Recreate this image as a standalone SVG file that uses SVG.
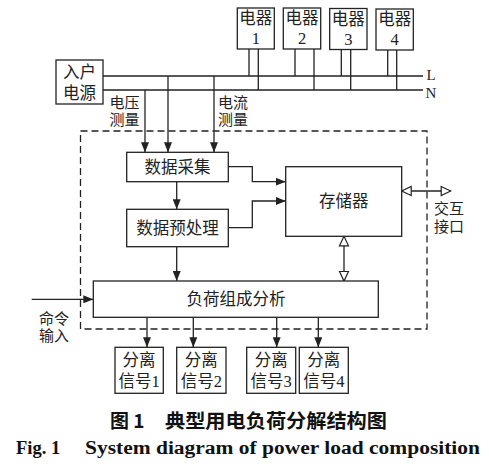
<svg xmlns="http://www.w3.org/2000/svg" width="489" height="471" viewBox="0 0 489 471">
<style>
.b{fill:#fff;stroke:#222;stroke-width:1.3}
.l{fill:none;stroke:#222;stroke-width:1.3}
.d{fill:none;stroke:#222;stroke-width:1.3;stroke-dasharray:7,4}
.t{font-family:"Liberation Serif","Noto Sans CJK SC",serif;font-size:16.5px;fill:#222;text-anchor:middle}
.s{font-size:15px}
.cap{font-family:"Noto Sans CJK SC",sans-serif;font-size:19px;font-weight:bold;fill:#111}
.en{font-family:"Liberation Serif",serif;font-size:18.5px;font-weight:bold;fill:#111}
</style>
<defs>
<marker id="a" markerUnits="userSpaceOnUse" markerWidth="10" markerHeight="8" refX="10" refY="4" orient="auto"><path d="M0,0 L10,4 L0,8 z" fill="#222"/></marker>
<marker id="o" markerUnits="userSpaceOnUse" markerWidth="12" markerHeight="12" refX="10.5" refY="6" orient="auto-start-reverse"><path d="M1,1.5 L10.5,6 L1,10.5 z" fill="#fff" stroke="#222" stroke-width="1.2"/></marker>
</defs>
<g id="frame"><rect class="d" x="80.5" y="131" width="346.5" height="198"/></g>
<g id="connectors">
<path class="l" d="M103,76 H423 M103,90 H423"/>
<path class="l" d="M249,49 V76 M258.3,49 V90 M295,49 V76 M314,49 V90 M341.3,49 V76 M350.7,49 V90 M387.7,50 V76 M396.7,50 V90"/>
<path class="l" d="M145,90 V152.3" marker-end="url(#a)"/>
<path class="l" d="M168,76 V152.3" marker-end="url(#a)"/>
<path class="l" d="M214,76 V152.3" marker-end="url(#a)"/>
<path class="l" d="M176.7,181.7 V209.3" marker-end="url(#a)"/>
<path class="l" d="M176.7,246.7 V281" marker-end="url(#a)"/>
<path class="l" d="M228.3,166.7 H252.3 V181.7 H285.7" marker-end="url(#a)"/>
<path class="l" d="M228.3,227.7 H252.3 V201 H285.7" marker-end="url(#a)"/>
<path class="l" d="M344,236.3 V281" marker-start="url(#o)" marker-end="url(#o)"/>
<path class="l" d="M401.7,191 H450.7" marker-start="url(#o)" marker-end="url(#o)"/>
<path class="l" d="M31.7,299.3 H93.3" marker-end="url(#a)"/>
<path class="l" d="M147,317.3 V347.3" marker-end="url(#a)"/>
<path class="l" d="M193.3,317.3 V347.3" marker-end="url(#a)"/>
<path class="l" d="M276.7,317.3 V347.3" marker-end="url(#a)"/>
<path class="l" d="M318.3,317.3 V347.3" marker-end="url(#a)"/>
</g>
<g id="source"><rect class="b" x="56" y="60" width="47" height="44"/><text class="t" x="79.5" y="78">入户</text><text class="t" x="79.5" y="99">电源</text></g>
<g id="app1"><rect class="b" x="237.3" y="8" width="37" height="41"/><text class="t" x="255.8" y="24">电器</text><text class="t" x="255.8" y="44">1</text></g>
<g id="app2"><rect class="b" x="283.3" y="8" width="37.4" height="41"/><text class="t" x="302" y="24">电器</text><text class="t" x="302" y="44">2</text></g>
<g id="app3"><rect class="b" x="329.7" y="8.5" width="37.3" height="41"/><text class="t" x="348.3" y="24.5">电器</text><text class="t" x="348.3" y="44.5">3</text></g>
<g id="app4"><rect class="b" x="376" y="9" width="37.3" height="41"/><text class="t" x="394.7" y="25">电器</text><text class="t" x="394.7" y="45">4</text></g>
<g id="lines-labels"><text class="t s" x="431" y="80">L</text><text class="t s" x="431" y="97.5">N</text></g>
<g id="vmeas"><text class="t s" x="124.5" y="107.5">电压</text><text class="t s" x="124.5" y="125">测量</text></g>
<g id="imeas"><text class="t s" x="233" y="107.5">电流</text><text class="t s" x="233" y="125">测量</text></g>
<g id="acq"><rect class="b" x="126.7" y="152.3" width="101.6" height="29.4"/><text class="t" x="177.5" y="173">数据采集</text></g>
<g id="pre"><rect class="b" x="126.7" y="209.3" width="101.6" height="37.4"/><text class="t" x="177.5" y="234">数据预处理</text></g>
<g id="mem"><rect class="b" x="285.7" y="166.7" width="116" height="69.6"/><text class="t" x="343.7" y="207">存储器</text></g>
<g id="iface"><text class="t s" x="449" y="214">交互</text><text class="t s" x="449" y="231.5">接口</text></g>
<g id="ana"><rect class="b" x="93.3" y="281" width="285" height="36.3"/><text class="t" x="236" y="305">负荷组成分析</text></g>
<g id="cmd"><text class="t s" x="54" y="323.5">命令</text><text class="t s" x="54" y="341">输入</text></g>
<g id="out1"><rect class="b" x="115" y="347.3" width="48.3" height="46"/><text class="t" x="139" y="366">分离</text><text class="t" x="139" y="387">信号1</text></g>
<g id="out2"><rect class="b" x="176.7" y="347.3" width="49.3" height="46"/><text class="t" x="201.3" y="366">分离</text><text class="t" x="201.3" y="387">信号2</text></g>
<g id="out3"><rect class="b" x="246.7" y="347.3" width="49" height="46"/><text class="t" x="271.2" y="366">分离</text><text class="t" x="271.2" y="387">信号3</text></g>
<g id="out4"><rect class="b" x="299.3" y="347.3" width="49" height="46"/><text class="t" x="323.8" y="366">分离</text><text class="t" x="323.8" y="387">信号4</text></g>
<g id="caption">
<text class="cap" x="110" y="428">图 1</text>
<text class="cap" x="165" y="428" textLength="222" lengthAdjust="spacingAndGlyphs">典型用电负荷分解结构图</text>
<text class="en" x="16" y="454">Fig. 1</text>
<text class="en" x="85" y="454" textLength="395" lengthAdjust="spacingAndGlyphs">System diagram of power load composition</text>
</g>
</svg>
